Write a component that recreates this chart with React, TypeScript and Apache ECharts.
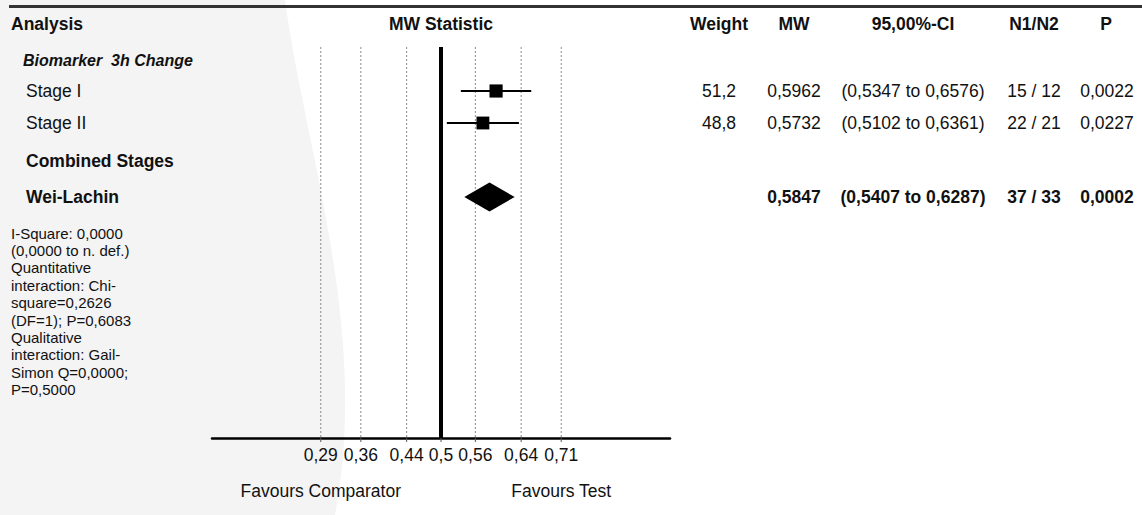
import { useEffect, useRef } from "react";
import * as echarts from "echarts";

// ---------- data ----------
const TICKS = [0.29, 0.36, 0.44, 0.5, 0.56, 0.64, 0.71];
const TICK_LABELS = ["0,29", "0,36", "0,44", "0,5", "0,56", "0,64", "0,71"];
const REFERENCE = 0.5;
const X_MIN = 0.1;
const X_MAX = 0.9;

const GROUP_TITLE = "Biomarker  3h Change";
const STUDIES = ["Stage I", "Stage II"];
const WEIGHTS = [51.2, 48.8];
const MW = [0.5962, 0.5732];
const CI_LOW = [0.5347, 0.5102];
const CI_HIGH = [0.6576, 0.6361];
const N1 = [15, 22];
const N2 = [12, 21];
const P_VALUES = [0.0022, 0.0227];

const COMBINED_TITLE = "Combined Stages";
const POOLED_LABEL = "Wei-Lachin";
const POOLED_MW = 0.5847;
const POOLED_LOW = 0.5407;
const POOLED_HIGH = 0.6287;
const POOLED_N1 = 37;
const POOLED_N2 = 33;
const POOLED_P = 0.0002;

const HEADERS = ["Analysis", "MW Statistic", "Weight", "MW", "95,00%-CI", "N1/N2", "P"];
const FOOTNOTE = [
  "I-Square: 0,0000",
  "(0,0000 to n. def.)",
  "Quantitative",
  "interaction: Chi-",
  "square=0,2626",
  "(DF=1); P=0,6083",
  "Qualitative",
  "interaction: Gail-",
  "Simon Q=0,0000;",
  "P=0,5000",
];
const FAVOURS = ["Favours Comparator", "Favours Test"];

// ---------- layout ----------
const W = 1142;
const H = 515;
const FONT = '"Liberation Sans", Arial, Helvetica, sans-serif';
const AXIS_Y = 438;
const PLOT_TOP = 47;
const HEADER_Y = 24;
const GROUP_Y = 60;
const STUDY_Y = [91, 123];
const COMBINED_Y = 161;
const POOLED_Y = 197;
const COL_X = { weight: 719, mw: 794, ci: 913, n: 1034, p: 1107, pHeader: 1106 };
const SQUARE_BASE = 13;
const DIAMOND_HALF = 14.5;

const fmt4 = (v: number) => v.toFixed(4).replace(".", ",");
const fmt1 = (v: number) => v.toFixed(1).replace(".", ",");

let bgRegistered = false;
function registerBg() {
  if (bgRegistered) return;
  echarts.graphic.registerShape(
    "bgcurve",
    echarts.graphic.extendPath(
      "M0 0 L285 0 C 305 150 370 330 335 515 L0 515 Z",
      {}
    ) as any
  );
  bgRegistered = true;
}

function txt(
  text: string,
  x: number,
  y: number,
  opts: { size?: number; weight?: string; style?: string; align?: string } = {}
) {
  const align = opts.align || "left";
  return {
    type: "text",
    z: 10,
    style: {
      text,
      x,
      y,
      fill: "#111",
      fontSize: opts.size || 17.5,
      fontWeight: opts.weight || "normal",
      fontStyle: opts.style || "normal",
      fontFamily: FONT,
      align,
      textAlign: align,
      verticalAlign: "middle",
      textVerticalAlign: "middle",
    },
  };
}

export default function App() {
  const ref = useRef<HTMLDivElement>(null);

  useEffect(() => {
    if (!ref.current) return;
    registerBg();
    const chart = echarts.init(ref.current, undefined, { renderer: "svg" });

    const graphics: any[] = [
      { type: "bgcurve", x: 0, y: 0, z: 0, style: { fill: "#f4f4f5" } },
      {
        type: "line",
        z: 10,
        shape: { x1: 9, y1: 6.5, x2: W, y2: 6.5 },
        style: { stroke: "#333", lineWidth: 3 },
      },
    ];

    const hx = [11, 441, COL_X.weight, COL_X.mw, COL_X.ci, COL_X.n, COL_X.pHeader];
    HEADERS.forEach((h, i) => {
      graphics.push(txt(h, hx[i], HEADER_Y, { weight: "bold", align: i === 0 ? "left" : "center" }));
    });

    graphics.push(txt(GROUP_TITLE, 23, GROUP_Y, { weight: "bold", style: "italic", size: 16 }));

    STUDIES.forEach((s, i) => {
      const y = STUDY_Y[i];
      graphics.push(txt(s, 26, y));
      graphics.push(txt(fmt1(WEIGHTS[i]), COL_X.weight, y, { align: "center" }));
      graphics.push(txt(fmt4(MW[i]), COL_X.mw, y, { align: "center" }));
      graphics.push(txt(`(${fmt4(CI_LOW[i])} to ${fmt4(CI_HIGH[i])})`, COL_X.ci, y, { align: "center" }));
      graphics.push(txt(`${N1[i]} / ${N2[i]}`, COL_X.n, y, { align: "center" }));
      graphics.push(txt(fmt4(P_VALUES[i]), COL_X.p, y, { align: "center" }));
    });

    graphics.push(txt(COMBINED_TITLE, 26, COMBINED_Y, { weight: "bold" }));
    graphics.push(txt(POOLED_LABEL, 26, POOLED_Y, { weight: "bold" }));
    const b = { weight: "bold", align: "center" };
    graphics.push(txt(fmt4(POOLED_MW), COL_X.mw, POOLED_Y, b));
    graphics.push(txt(`(${fmt4(POOLED_LOW)} to ${fmt4(POOLED_HIGH)})`, COL_X.ci, POOLED_Y, b));
    graphics.push(txt(`${POOLED_N1} / ${POOLED_N2}`, COL_X.n, POOLED_Y, b));
    graphics.push(txt(fmt4(POOLED_P), COL_X.p, POOLED_Y, b));

    FOOTNOTE.forEach((line, i) => {
      graphics.push(txt(line, 11, 233 + i * 17.4, { size: 15 }));
    });

    const option: any = {
      animation: false,
      backgroundColor: "#ffffff",
      grid: { left: 212, right: W - 670, top: 0, height: AXIS_Y },
      xAxis: {
        type: "value",
        min: X_MIN,
        max: X_MAX,
        axisLine: { show: true, onZero: false, lineStyle: { color: "#000", width: 2.5 } },
        axisTick: { show: false },
        axisLabel: { show: false },
        splitLine: { show: false },
      },
      yAxis: {
        type: "value",
        inverse: true,
        min: 0,
        max: AXIS_Y,
        show: false,
        splitLine: { show: false },
      },
      graphic: graphics,
      series: [
        {
          type: "custom",
          name: "ticks",
          z: 3,
          silent: true,
          data: TICKS.map((t, i) => [t, i]),
          encode: { x: 0 },
          renderItem: (params: any, api: any) => {
            const v = api.value(0);
            const idx = api.value(1);
            const top = api.coord([v, PLOT_TOP]);
            const bot = api.coord([v, AXIS_Y]);
            const isRef = v === REFERENCE;
            return {
              type: "group",
              children: [
                {
                  type: "line",
                  shape: { x1: top[0], y1: top[1], x2: bot[0], y2: bot[1] },
                  style: isRef
                    ? { stroke: "#000", lineWidth: 4 }
                    : { stroke: "#8a8a8a", lineWidth: 1, lineDash: [2, 2] },
                },
                {
                  type: "line",
                  shape: { x1: bot[0], y1: bot[1], x2: bot[0], y2: bot[1] + 4 },
                  style: { stroke: "#555", lineWidth: 1 },
                },
                {
                  type: "text",
                  style: {
                    text: TICK_LABELS[idx],
                    x: bot[0],
                    y: bot[1] + 17,
                    fill: "#111",
                    fontSize: 17.5,
                    fontFamily: FONT,
                    align: "center",
                    textAlign: "center",
                    verticalAlign: "middle",
                    textVerticalAlign: "middle",
                  },
                },
              ],
            };
          },
        },
        {
          type: "custom",
          name: "favours",
          z: 3,
          silent: true,
          data: [[TICKS[0], 0], [TICKS[TICKS.length - 1], 1]],
          encode: { x: 0 },
          renderItem: (params: any, api: any) => {
            const p = api.coord([api.value(0), AXIS_Y]);
            return {
              type: "text",
              style: {
                text: FAVOURS[api.value(1)],
                x: p[0],
                y: p[1] + 53,
                fill: "#111",
                fontSize: 17.5,
                fontFamily: FONT,
                align: "center",
                textAlign: "center",
                verticalAlign: "middle",
                textVerticalAlign: "middle",
              },
            };
          },
        },
        {
          type: "custom",
          name: "studies",
          z: 5,
          data: STUDIES.map((s, i) => [MW[i], CI_LOW[i], CI_HIGH[i], WEIGHTS[i], STUDY_Y[i]]),
          encode: { x: [0, 1, 2], y: 4 },
          renderItem: (params: any, api: any) => {
            const y = api.value(4);
            const c = api.coord([api.value(0), y]);
            const l = api.coord([api.value(1), y]);
            const h = api.coord([api.value(2), y]);
            const size = SQUARE_BASE * Math.sqrt(api.value(3) / 50);
            return {
              type: "group",
              children: [
                {
                  type: "line",
                  shape: { x1: l[0], y1: l[1], x2: h[0], y2: h[1] },
                  style: { stroke: "#000", lineWidth: 2 },
                },
                {
                  type: "rect",
                  shape: { x: c[0] - size / 2, y: c[1] - size / 2, width: size, height: size },
                  style: { fill: "#000" },
                },
              ],
            };
          },
        },
        {
          type: "custom",
          name: "pooled",
          z: 5,
          data: [[POOLED_MW, POOLED_LOW, POOLED_HIGH, POOLED_Y]],
          encode: { x: [0, 1, 2], y: 3 },
          renderItem: (params: any, api: any) => {
            const y = api.value(3);
            const c = api.coord([api.value(0), y]);
            const l = api.coord([api.value(1), y]);
            const h = api.coord([api.value(2), y]);
            return {
              type: "polygon",
              shape: {
                points: [
                  [l[0], c[1]],
                  [c[0], c[1] - DIAMOND_HALF],
                  [h[0], c[1]],
                  [c[0], c[1] + DIAMOND_HALF],
                ],
              },
              style: { fill: "#000" },
            };
          },
        },
      ],
    };

    chart.setOption(option);
    return () => chart.dispose();
  }, []);

  return (
    <div
      ref={ref}
      style={{ position: "fixed", left: 0, top: 0, width: W, height: H }}
    />
  );
}
